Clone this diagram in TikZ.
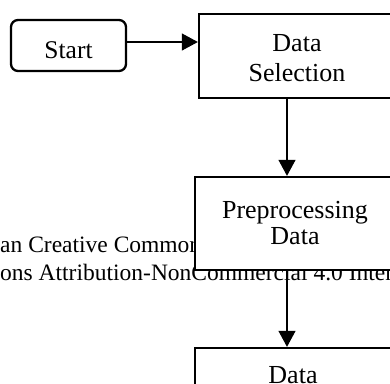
\documentclass[tikz,border=0pt]{standalone}
\usepackage{fontspec}
\setmainfont{Liberation Serif}
\usetikzlibrary{arrows.meta}

\tikzset{
  boxline/.style={draw=black, line width=2.3pt, fill=white, inner sep=0pt, align=center},
  stepbox/.style={boxline, rectangle},
  startbox/.style={boxline, rounded corners=7pt},
  arr/.style={draw=black, line width=1.1pt, -{Triangle[length=16pt,width=17pt]}},
  boxfont/.style={font=\fontsize{26}{30}\selectfont},
  notefont/.style={font=\fontsize{23.5}{28}\selectfont, inner sep=0pt, anchor=base west},
}

\begin{document}
\begin{tikzpicture}[x=1pt, y=-1pt]
  \useasboundingbox (0,0) rectangle (390,383);
  \clip (0,0) rectangle (390,383);

  % licence notice printed underneath the flowchart
  \node[notefont] (note1) at (0,252) {an Creative Commons};
  \node[notefont] (note2) at (0,280) {ons Attribution-NonCommercial 4.0 International};

  % flowchart boxes
  \node[startbox, minimum width=115pt, minimum height=51pt,
        font=\fontsize{25.5}{30}\selectfont, text height=25pt, text depth=0pt]
        (start) at (68.5,45.5) {Start};
  \node[stepbox, boxfont, minimum width=196pt, minimum height=84pt, text height=50.8pt, text depth=0pt]
        (sel) at (297,56) {Data\\Selection};
  \node[stepbox, font=\fontsize{26}{26}\selectfont, minimum width=200pt, minimum height=93pt]
        (pre) at (295,223.5) {Preprocessing\\Data};
  \node[stepbox, boxfont, minimum width=196pt, minimum height=54pt, text height=17.6pt, text depth=0pt]
        (dat) at (293,375) {Data};

  % connectors
  \coordinate (axis) at (287,0);
  \draw[arr] ([yshift=3.5pt]start.east) coordinate (s0) -- (s0 -| sel.west);
  \draw[arr] (sel.south -| axis) -- (pre.north -| axis);
  \draw[arr] (pre.south -| axis) -- (dat.north -| axis);
\end{tikzpicture}
\end{document}
